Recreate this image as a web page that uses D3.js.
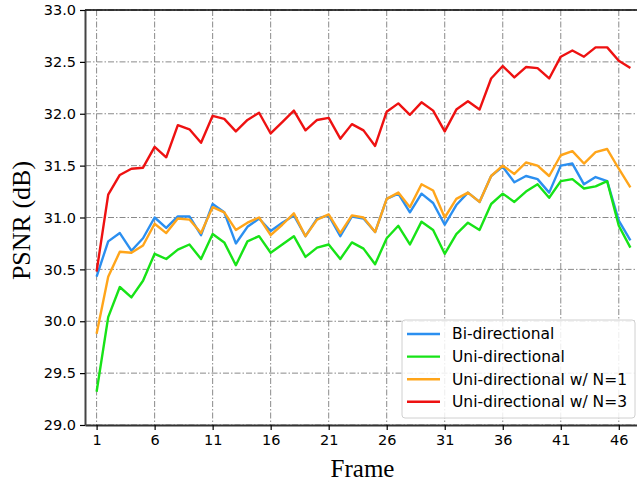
<!DOCTYPE html>
<html>
<head>
<meta charset="utf-8">
<script src="https://cdn.jsdelivr.net/npm/d3@7"></script>
<style>
  body { margin: 0; background: #fff; }
  #chart { width: 637px; height: 482px; overflow: hidden; }
  .tick text { font-family: "DejaVu Sans", sans-serif; font-size: 14.5px; fill: #000; }
</style>
</head>
<body>
<div id="chart"></div>
<script>
let frames = d3.range(1, 48)

let biDirectional = [30.43, 30.77, 30.85, 30.68, 30.80, 31.00, 30.90, 31.01, 31.01, 30.83,
  31.13, 31.05, 30.75, 30.91, 30.99, 30.87, 30.95, 31.02, 30.82, 30.99,
  31.02, 30.82, 31.01, 30.99, 30.86, 31.18, 31.23, 31.05, 31.23, 31.14,
  30.93, 31.12, 31.24, 31.15, 31.40, 31.49, 31.34, 31.40, 31.37, 31.24,
  31.50, 31.52, 31.32, 31.39, 31.35, 30.97, 30.78]

let uniDirectional = [29.32, 30.04, 30.33, 30.23, 30.39, 30.65, 30.60, 30.69, 30.74, 30.60,
  30.84, 30.76, 30.54, 30.77, 30.82, 30.66, 30.74, 30.82, 30.62, 30.71,
  30.74, 30.60, 30.76, 30.70, 30.55, 30.80, 30.92, 30.74, 30.96, 30.88,
  30.65, 30.84, 30.95, 30.88, 31.13, 31.23, 31.15, 31.25, 31.32, 31.19,
  31.35, 31.37, 31.28, 31.30, 31.35, 30.92, 30.71]

let uniN1 = [29.88, 30.43, 30.67, 30.66, 30.73, 30.94, 30.85, 30.99, 30.98, 30.85,
  31.10, 31.05, 30.88, 30.95, 31.00, 30.83, 30.93, 31.04, 30.82, 30.98,
  31.03, 30.85, 31.02, 31.00, 30.86, 31.18, 31.24, 31.10, 31.32, 31.26,
  31.00, 31.18, 31.24, 31.15, 31.40, 31.50, 31.42, 31.53, 31.50, 31.40,
  31.60, 31.64, 31.52, 31.63, 31.66, 31.47, 31.29]

let uniN3 = [30.48, 31.22, 31.41, 31.47, 31.48, 31.68, 31.58, 31.89, 31.85, 31.72,
  31.98, 31.95, 31.83, 31.94, 32.01, 31.81, 31.92, 32.03, 31.84, 31.94,
  31.96, 31.76, 31.90, 31.84, 31.69, 32.02, 32.10, 31.99, 32.11, 32.03,
  31.83, 32.04, 32.12, 32.04, 32.34, 32.46, 32.35, 32.45, 32.44, 32.34,
  32.55, 32.61, 32.55, 32.64, 32.64, 32.51, 32.44]

let seriesNames = ['Bi-directional', 'Uni-directional', 'Uni-directional w/ N=1', 'Uni-directional w/ N=3']
let seriesColors = ['#2b8ff0', '#17e317', '#ffa51a', '#ee1111']
let seriesValues = [biDirectional, uniDirectional, uniN1, uniN3]

let xTicks = [1, 6, 11, 16, 21, 26, 31, 36, 41, 46]
let yTicks = [29.0, 29.5, 30.0, 30.5, 31.0, 31.5, 32.0, 32.5, 33.0]

let margin = { top: 10, right: -5, bottom: 57, left: 85 }
let width = 637 - margin.left - margin.right
let height = 482 - margin.top - margin.bottom

let svg = d3.select('#chart')
  .append('svg')
    .attr('width', 637)
    .attr('height', 482)

let plot = svg.append('g')
  .attr('transform', `translate(${margin.left}, ${margin.top})`)

let xScale = d3.scaleLinear().domain([0, 48]).range([0, width])
let yScale = d3.scaleLinear().domain([29, 33]).range([height, 0])

// Grid lines (dash-dot)
let gridDash = '6,2,1.5,2'
plot.append('g')
  .selectAll('line')
  .data(xTicks)
  .join('line')
    .attr('x1', d => xScale(d))
    .attr('x2', d => xScale(d))
    .attr('y1', 0)
    .attr('y2', height)
    .attr('stroke', '#8a8a8a')
    .attr('stroke-width', 1)
    .attr('stroke-dasharray', gridDash)

plot.append('g')
  .selectAll('line')
  .data(yTicks)
  .join('line')
    .attr('x1', 0)
    .attr('x2', width)
    .attr('y1', d => yScale(d))
    .attr('y2', d => yScale(d))
    .attr('stroke', '#8a8a8a')
    .attr('stroke-width', 1)
    .attr('stroke-dasharray', gridDash)

// Lines
let line = d3.line()
  .x((d, i) => xScale(frames[i]))
  .y(d => yScale(d))

seriesValues.forEach((values, i) => {
  plot.append('path')
    .datum(values)
    .attr('d', line)
    .attr('fill', 'none')
    .attr('stroke', seriesColors[i])
    .attr('stroke-width', 2.4)
    .attr('stroke-linejoin', 'round')
})

// Axes
let xAxis = plot.append('g')
  .attr('transform', `translate(0, ${height})`)
  .call(d3.axisBottom(xScale).tickValues(xTicks).tickSize(5).tickSizeOuter(0).tickPadding(5))
xAxis.select('.domain').attr('stroke', '#333').attr('stroke-width', 2)
xAxis.selectAll('.tick line').attr('stroke', '#000').attr('stroke-width', 1.2)

let yAxis = plot.append('g')
  .call(d3.axisLeft(yScale).tickValues(yTicks).tickFormat(d3.format('.1f')).tickSize(5).tickSizeOuter(0).tickPadding(4))
yAxis.select('.domain').attr('stroke', '#444').attr('stroke-width', 2)
yAxis.selectAll('.tick line').attr('stroke', '#000').attr('stroke-width', 1.2)

// Top spine
plot.append('line')
  .attr('x1', 0).attr('x2', width)
  .attr('y1', 0).attr('y2', 0)
  .attr('stroke', '#000')
  .attr('stroke-width', 1.5)

// Axis titles
svg.append('text')
  .attr('x', margin.left + xScale(24) - 1)
  .attr('y', 477)
  .attr('text-anchor', 'middle')
  .attr('font-family', '"Liberation Serif", "Times New Roman", serif')
  .attr('font-size', 25)
  .text('Frame')

svg.append('text')
  .attr('transform', `translate(30, ${margin.top + height / 2 + 3}) rotate(-90)`)
  .attr('text-anchor', 'middle')
  .attr('font-family', '"Liberation Serif", "Times New Roman", serif')
  .attr('font-size', 26)
  .text('PSNR (dB)')

// Legend
let legend = svg.append('g').attr('transform', 'translate(402, 320)')
legend.append('rect')
  .attr('width', 233)
  .attr('height', 98)
  .attr('rx', 3)
  .attr('fill', 'rgba(255,255,255,0.85)')
  .attr('stroke', '#d0d0d0')
  .attr('stroke-width', 1)

seriesNames.forEach((name, i) => {
  let y = 14 + i * 22.6
  legend.append('line')
    .attr('x1', 5).attr('x2', 38)
    .attr('y1', y).attr('y2', y)
    .attr('stroke', seriesColors[i])
    .attr('stroke-width', 2.4)
  legend.append('text')
    .attr('x', 50)
    .attr('y', y)
    .attr('dy', '0.35em')
    .attr('font-family', '"DejaVu Sans", sans-serif')
    .attr('font-size', 15.5)
    .text(name)
})
</script>
</body>
</html>
